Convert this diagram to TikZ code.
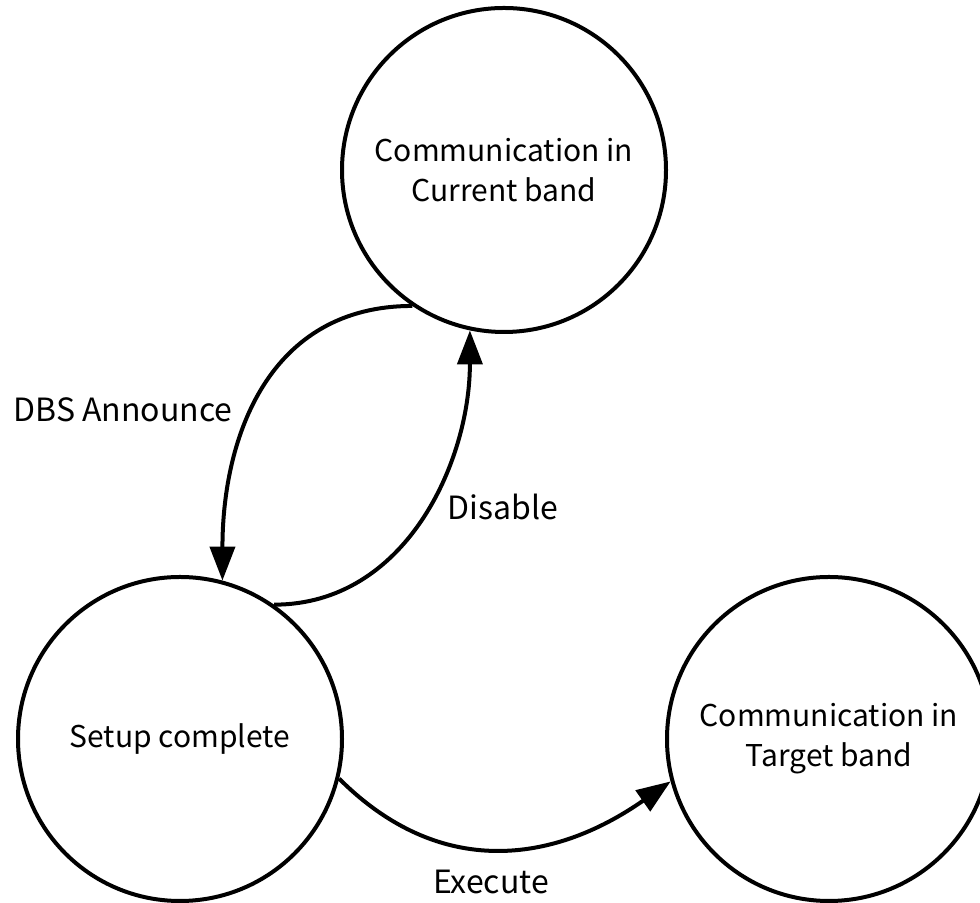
\documentclass[tikz,border=0pt]{standalone}
\usepackage{fontspec}
\setmainfont{Noto Sans CJK JP}
\usetikzlibrary{arrows.meta}

\begin{document}
\begin{tikzpicture}[x=0.5pt, y=0.5pt,
    state/.style={draw, circle, line width=2pt, minimum size=162pt, inner sep=0pt,
      align=center, font=\fontsize{15}{20}\selectfont},
    trans/.style={line width=2pt, -{Triangle[length=17pt, width=12.5pt]}},
    lbl/.style={font=\fontsize{16}{20}\selectfont}]
      \useasboundingbox (0, 0) rectangle (980, 903);
      \node[state] (cur) at (504, 733){Communication in\\Current band};
      \node[state] (setup) at (180, 164){Setup complete};
      \node[state] (target) at (829, 164){Communication in\\Target band};

      \draw[trans] (cur.236) to[out=180, in=90, looseness=1.1] (setup.75);
      \draw[trans] (setup.55) to[out=0, in=-90] (cur.258);
      \draw[trans] (setup.-14) to[out=-45, in=215, looseness=1.1] (target.195);

      \node[lbl] (ann) at (123, 493){DBS Announce};
      \node[lbl] (dis) at (503, 396){Disable};
      \node[lbl] (exe) at (491, 21){Execute};
\end{tikzpicture}
\end{document}
